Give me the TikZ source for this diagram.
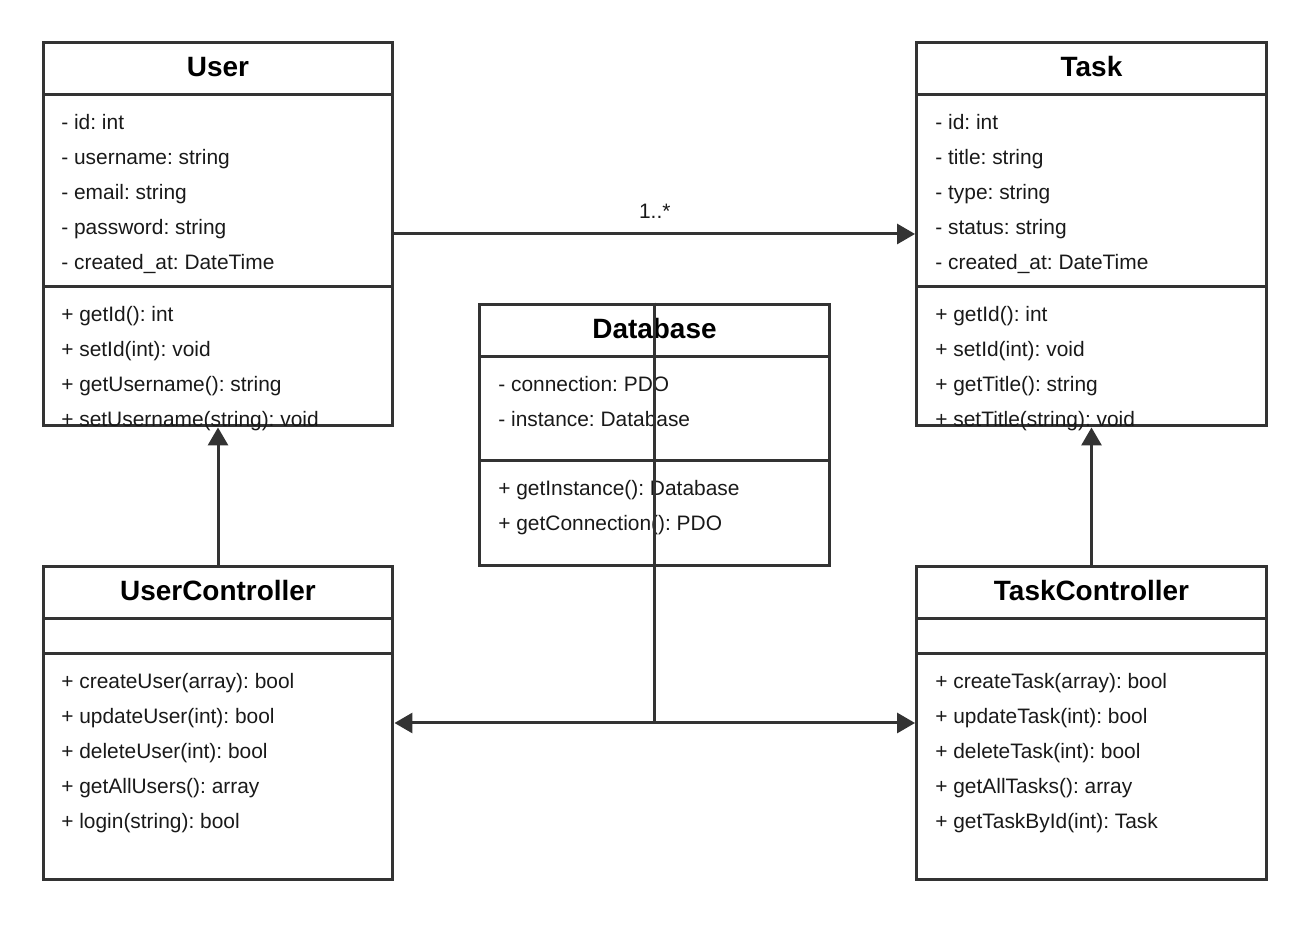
\documentclass[tikz,border=0pt]{standalone}
\usepackage{fontspec}
\setmainfont{Liberation Sans}
\usepackage{tikz}
\usetikzlibrary{arrows.meta}
\definecolor{umlgray}{HTML}{333333}
\tikzstyle{classbox} = [rectangle, draw=umlgray, line width=0.06cm, minimum width=7cm, inner sep=0pt]
\tikzstyle{classname} = [anchor=base, inner sep=0pt, font=\fontsize{15.9}{18}\selectfont\bfseries]
\tikzstyle{member} = [anchor=base west, inner sep=0pt, font=\fontsize{11.9}{14}\selectfont, text=black!90]
\tikzstyle{sep} = [draw=umlgray, line width=0.06cm]
\tikzstyle{link} = [draw=umlgray, line width=0.06cm, -{Triangle[length=0.36cm,width=0.4cm]}]
\frenchspacing

\begin{document}
\begin{tikzpicture}[x=0.02cm, y=-0.02cm]

        \useasboundingbox (0,0) rectangle (1316,925);

        % classes
        \node (user) [classbox, minimum height=7.68cm] at (218,234) {};
        \node (task) [classbox, minimum height=7.68cm] at (1091.5,234) {};
        \node (db) [classbox, minimum height=5.24cm] at (654.5,435) {};
        \node (uc) [classbox, minimum height=6.28cm] at (218,723) {};
        \node (tc) [classbox, minimum height=6.28cm] at (1091.5,723) {};

        \draw[sep] (43,95) -- (393,95);
        \draw[sep] (43,287) -- (393,287);
        \draw[sep] (917,95) -- (1266,95);
        \draw[sep] (917,287) -- (1266,287);
        \draw[sep] (480,357) -- (829,357);
        \draw[sep] (480,461) -- (829,461);
        \draw[sep] (43,619) -- (393,619);
        \draw[sep] (43,654) -- (393,654);
        \draw[sep] (917,619) -- (1266,619);
        \draw[sep] (917,654) -- (1266,654);

        \node (usertitle) [classname] at (218,77) {User};
        \node (tasktitle) [classname] at (1091.5,77) {Task};
        \node (dbtitle) [classname] at (654.5,339) {Database};
        \node (uctitle) [classname] at (218,601) {UserController};
        \node (tctitle) [classname] at (1091.5,601) {TaskController};

        % members
        \foreach \t [count=\i] in {- id: int, - username: string, - email: string, - password: string, - created\_at: DateTime}
            \node (userattr\i) [member] at (61,94.6+35*\i) {\t};
        \foreach \t [count=\i] in {+ getId(): int, + setId(int): void, + getUsername(): string, + setUsername(string): void}
            \node (userop\i) [member] at (61,286.6+35*\i) {\t};

        \foreach \t [count=\i] in {- id: int, - title: string, - type: string, - status: string, - created\_at: DateTime}
            \node (taskattr\i) [member] at (935,94.6+35*\i) {\t};
        \foreach \t [count=\i] in {+ getId(): int, + setId(int): void, + getTitle(): string, + setTitle(string): void}
            \node (taskop\i) [member] at (935,286.6+35*\i) {\t};

        \foreach \t [count=\i] in {- connection: PDO, - instance: Database}
            \node (dbattr\i) [member] at (498,356.6+35*\i) {\t};
        \foreach \t [count=\i] in {+ getInstance(): Database, + getConnection(): PDO}
            \node (dbop\i) [member] at (498,460.6+35*\i) {\t};

        \foreach \t [count=\i] in {+ createUser(array): bool, + updateUser(int): bool, + deleteUser(int): bool, + getAllUsers(): array, + login(string): bool}
            \node (ucop\i) [member] at (61,653.6+35*\i) {\t};
        \foreach \t [count=\i] in {+ createTask(array): bool, + updateTask(int): bool, + deleteTask(int): bool, + getAllTasks(): array, + getTaskById(int): Task}
            \node (tcop\i) [member] at (935,653.6+35*\i) {\t};

        % relations
        \draw[link] (user.east |- 0,234) -- node[member, anchor=base, above=0.28cm] (mult) {1..*} (task.west |- 0,234);
        \draw[link] (uc.north) -- (user.south);
        \draw[link] (tc.north) -- (task.south);
        \draw[link] (db.north) |- (uc.east);
        \draw[link] (db.north) |- (tc.west);

    \end{tikzpicture}
\end{document}
